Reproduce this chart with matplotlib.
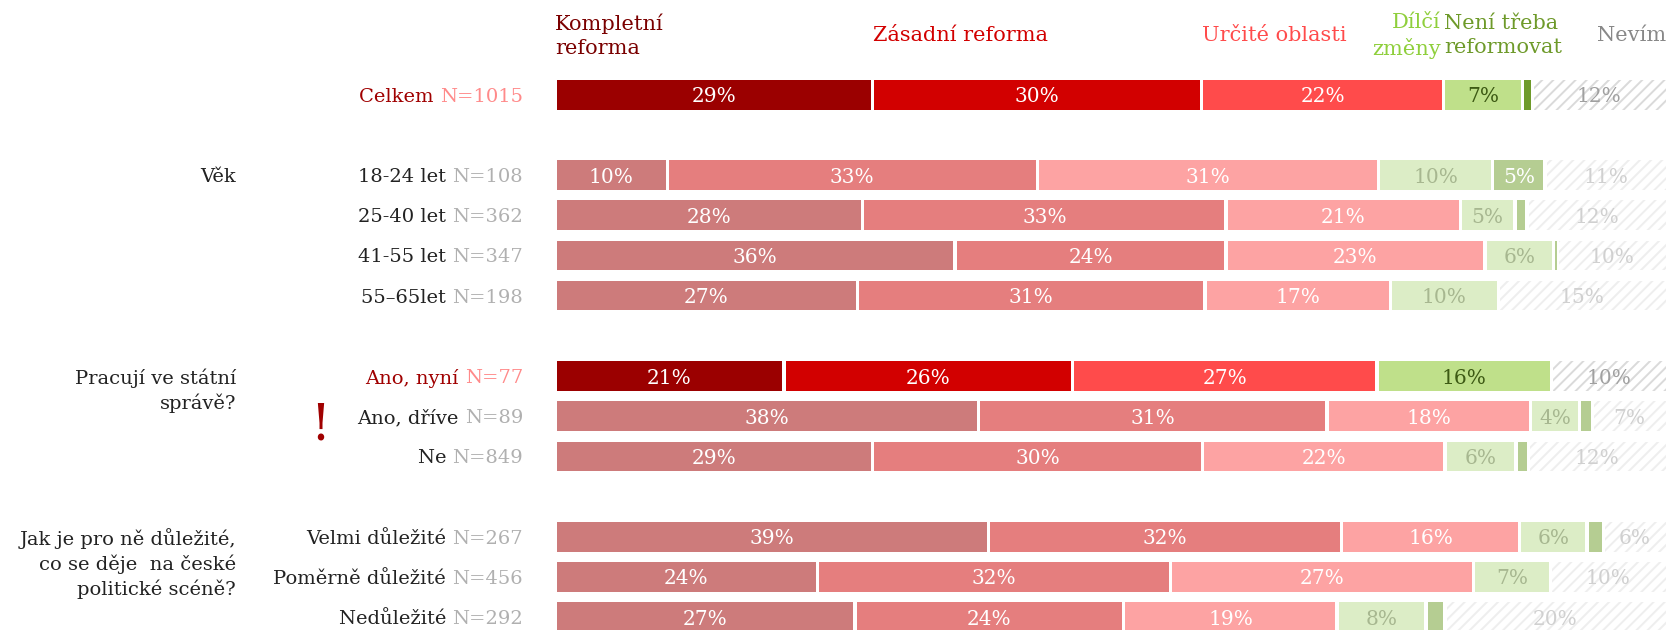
import numpy as np
import matplotlib

matplotlib.use("Agg")
import matplotlib.pyplot as plt

plt.rcParams["font.family"] = ["DejaVu Serif"]
plt.rcParams["hatch.linewidth"] = 1.4

# -------- data --------
categories = ["Kompletní\nreforma", "Zásadní reforma", "Určité oblasti",
              "Dílčí\nzměny", "Není třeba\nreformovat", "Nevím"]

row_labels = ["Celkem", "18-24 let", "25-40 let", "41-55 let", "55\u201365let",
              "Ano, nyní", "Ano, dříve", "Ne",
              "Velmi důležité", "Poměrně důležité", "Nedůležité"]
row_n = [1015, 108, 362, 347, 198, 77, 89, 849, 267, 456, 292]
row_pos = [0, 2, 3, 4, 5, 7, 8, 9, 11, 12, 13]
highlight = [True, False, False, False, False, True, False, False, False, False, False]

groups = ["Věk", "Pracují ve státní\nsprávě?",
          "Jak je pro ně důležité,\nco se děje  na české\npolitické scéně?"]
group_pos = [2, 7, 11]

# shares in % (Kompletní, Zásadní, Určité, Dílčí, Není třeba, Nevím)
values = np.array([
    [28.6, 29.6, 21.8, 7.1, 0.9, 12.0],
    [10.1, 33.3, 30.7, 10.3, 4.7, 10.9],
    [27.7, 32.7, 21.1, 4.9, 1.1, 12.5],
    [36.0, 24.4, 23.3, 6.2, 0.3, 9.8],
    [27.2, 31.3, 16.7, 9.7, 0.0, 15.1],
    [20.6, 26.0, 27.4, 15.7, 0.0, 10.3],
    [38.1, 31.4, 18.3, 4.4, 1.2, 6.6],
    [28.6, 29.7, 21.8, 6.4, 1.1, 12.4],
    [39.0, 31.8, 16.0, 6.1, 1.5, 5.6],
    [23.6, 31.8, 27.3, 6.9, 0.0, 10.4],
    [27.0, 24.2, 19.2, 8.0, 1.7, 19.9],
])

# -------- styles --------
col_hi = ["#9b0000", "#d20000", "#ff4b4b", "#bfe08a", "#6e9a2a", "white"]
col_lo = ["#cd7b7b", "#e57e7e", "#fda3a3", "#dcedc6", "#b5cd92", "white"]
txt_hi = ["white", "white", "white", "#3d5a14", "white", "#a0a0a0"]
txt_lo = ["white", "white", "white", "#a7b790", "white", "#d0d0d0"]
hatch_hi = "#dadada"
hatch_lo = "#eeeeee"
head_colors = ["#7a0000", "#d20000", "#ff4b4b", "#8fcf3c", "#6e9a2a", "#888888"]

FS = 14      # row / group labels
FS_BAR = 14.5
FS_HEAD = 15

W, H, DPI = 16.69, 6.30, 100
fig = plt.figure(figsize=(W, H), dpi=DPI)
ax = fig.add_axes([555 / 1669, 0, 1111 / 1669, 1])
ax.set_xlim(0, 100)
ax.set_ylim(13.32, -2.356)
ax.axis("off")

gap = 0.3
bar_h = 0.74
for i, (y, vals) in enumerate(zip(row_pos, values)):
    hi = highlight[i]
    cols = col_hi if hi else col_lo
    tcols = txt_hi if hi else txt_lo
    left = 0.0
    for j, v in enumerate(vals):
        if v <= 0:
            continue
        if j == 5:
            ax.barh(y, v - gap / 2, left=left + gap / 2, height=bar_h,
                    color="white", edgecolor=hatch_hi if hi else hatch_lo,
                    linewidth=0, hatch="///")
        else:
            ax.barh(y, max(v - gap, 0.12), left=left + gap / 2, height=bar_h,
                    color=cols[j], linewidth=0)
        if v >= 3:
            ax.text(left + v / 2, y, f"{round(v)}%", ha="center",
                    va="center_baseline", fontsize=FS_BAR, color=tcols[j])
        left += v

# -------- row labels --------
renderer = fig.canvas.get_renderer()
lab_x = (523 - 555) / 11.11
for i, y in enumerate(row_pos):
    hi = highlight[i]
    t = ax.text(lab_x, y, f"N={row_n[i]}", ha="right", va="center_baseline",
                fontsize=FS, color="#ff8a8a" if hi else "#b0b0b0", clip_on=False)
    w = t.get_window_extent(renderer=renderer).width * 72 / DPI
    ax.annotate(row_labels[i] + " ", xy=(lab_x, y), xytext=(-w, 0),
                textcoords="offset points", ha="right", va="center_baseline",
                fontsize=FS, color="#a00000" if hi else "#222222",
                annotation_clip=False)

# -------- group labels (first line level with the first row) --------
grp_x = (236 - 555) / 11.11
line_step = 0.625
for g, y in zip(groups, group_pos):
    for k, line in enumerate(g.split("\n")):
        ax.text(grp_x, y + k * line_step, line, ha="right",
                va="center_baseline", fontsize=FS, color="#222222",
                clip_on=False)

ax.text((320 - 555) / 11.11, 8.25, "!", ha="center", va="center",
        fontsize=36, color="#a00000", clip_on=False)

# -------- header --------
starts = np.concatenate([[0], np.cumsum(values[0])[:-1]])
hy = -1.47
ls = 1.35
ax.text(starts[0], hy, categories[0], ha="left", va="center", fontsize=FS_HEAD,
        color=head_colors[0], linespacing=ls)
ax.text(starts[1], hy, categories[1], ha="left", va="center", fontsize=FS_HEAD,
        color=head_colors[1])
ax.text(starts[2], hy, categories[2], ha="left", va="center", fontsize=FS_HEAD,
        color=head_colors[2])
ax.text(starts[3] - 0.3, hy, categories[3], ha="right", va="center",
        fontsize=FS_HEAD, color=head_colors[3], linespacing=ls)
ax.text(starts[3], hy, categories[4], ha="left", va="center", fontsize=FS_HEAD,
        color=head_colors[4], linespacing=ls)
ax.text(100, hy, categories[5], ha="right", va="center", fontsize=FS_HEAD,
        color=head_colors[5])

fig.savefig("out.png", dpi=DPI)
